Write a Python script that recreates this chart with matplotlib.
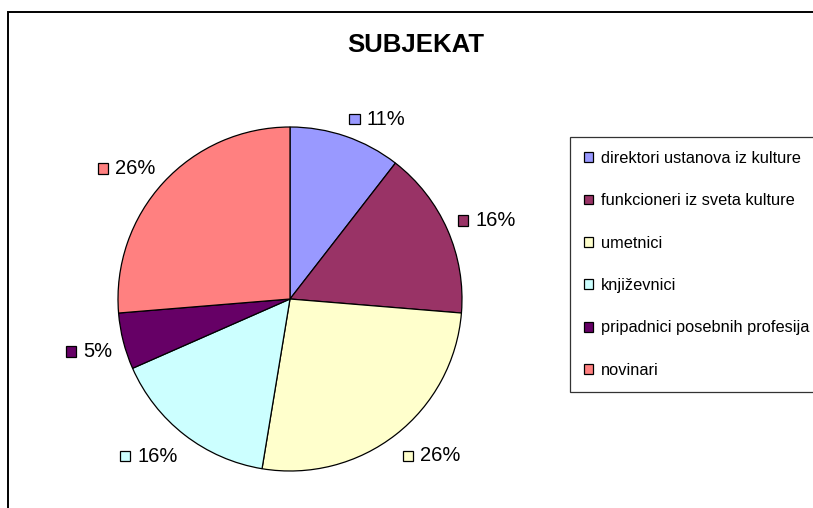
import matplotlib
matplotlib.use("Agg")
import matplotlib.pyplot as plt
import numpy as np
from matplotlib.patches import Patch, Rectangle
from matplotlib.offsetbox import AnnotationBbox, HPacker, DrawingArea, TextArea

plt.rcParams['font.family'] = ['Liberation Sans', 'DejaVu Sans']

categories = ["direktori ustanova iz kulture", "funkcioneri iz sveta kulture",
              "umetnici", "književnici", "pripadnici posebnih profesija", "novinari"]
values = [10.5, 15.8, 26.3, 15.8, 5.3, 26.3]
labels = ["11%", "16%", "26%", "16%", "5%", "26%"]
colors = ["#9999FF", "#993366", "#FFFFCC", "#CCFFFF", "#660066", "#FF8080"]
title = "SUBJEKAT"

W, H = 813, 508
fig = plt.figure(figsize=(W / 100, H / 100), dpi=100)
fig.patch.set_facecolor("white")

# chart border
fig.patches.append(Rectangle((8 / W, -0.1), 1.2, 1 - 12.5 / H + 0.1, transform=fig.transFigure,
                             fill=False, edgecolor="black", lw=1.4, zorder=0))

cx, cy, r = 290, 299, 172
ax = fig.add_axes([(cx - r) / W, 1 - (cy + r) / H, 2 * r / W, 2 * r / H])
wedges, _ = ax.pie(values, colors=colors, startangle=90, counterclock=False, radius=1,
                   wedgeprops=dict(edgecolor="black", linewidth=0.9))
ax.set_xlim(-1, 1)
ax.set_ylim(-1, 1)
ax.set_aspect("equal")
ax.axis("off")

dist = 1.065
ydrop = 3.0 / r
for w, lab, col in zip(wedges, labels, colors):
    mid = np.deg2rad((w.theta1 + w.theta2) / 2)
    c, s = np.cos(mid), np.sin(mid)
    x, y = dist * c, dist * s - ydrop
    xa = 0.5 - 0.5 * np.sign(c) * min(1.0, abs(c) * 4)
    ya = 0.5 - 0.5 * np.sign(s) * min(1.0, abs(s) * 2)
    da = DrawingArea(7.5, 7.5, 0, 0)
    da.add_artist(Rectangle((0, 0), 7.5, 7.5, facecolor=col, edgecolor="black", lw=0.9))
    ta = TextArea(lab, textprops=dict(fontsize=14.5, color="black"))
    box = HPacker(children=[da, ta], align="center", pad=0, sep=5)
    ab = AnnotationBbox(box, (x, y), xycoords="data", frameon=False,
                        box_alignment=(xa, ya), annotation_clip=False)
    ax.add_artist(ab)

fig.text(415.5 / W, 1 - 52 / H, title, ha="center", va="baseline", fontsize=18.5,
         fontweight="bold")

handles = [Patch(facecolor=c, edgecolor="black", lw=0.9) for c in colors]
leg = fig.legend(handles, categories, loc="upper left", bbox_to_anchor=(570 / W, 1 - 137 / H),
                 fontsize=11.8, frameon=True, fancybox=False, shadow=False,
                 handlelength=0.55, handleheight=0.55, handletextpad=0.5,
                 labelspacing=1.67, borderpad=0.85, borderaxespad=0)
leg.get_frame().set_edgecolor("black")
leg.get_frame().set_linewidth(0.9)

fig.savefig("out.png", dpi=100, facecolor="white")
